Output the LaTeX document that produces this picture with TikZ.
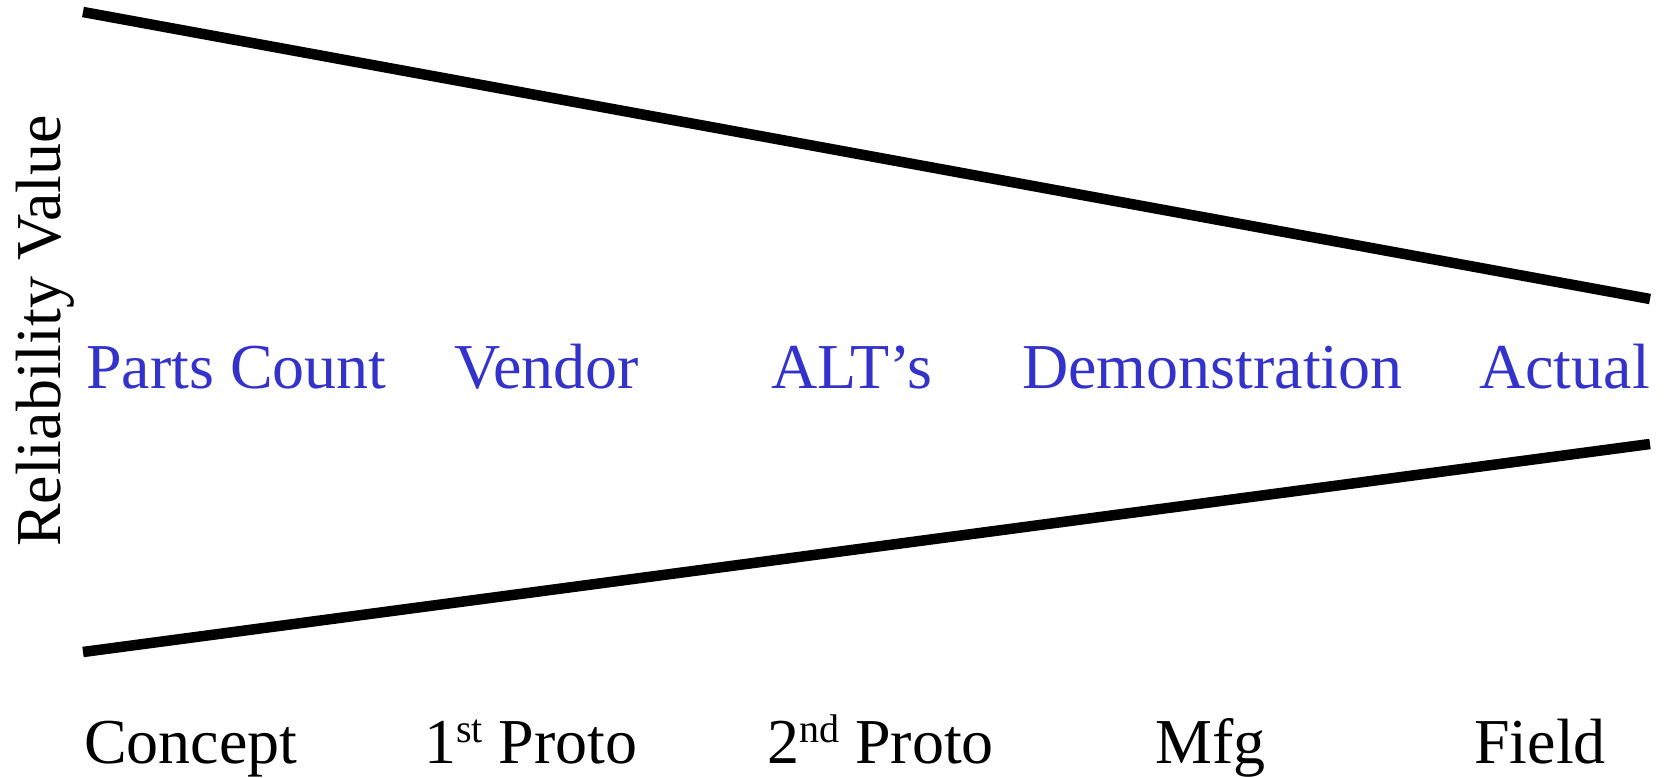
\documentclass[tikz,border=0pt]{standalone}
\usepackage{fontspec}
\setmainfont{Liberation Serif}
\definecolor{lblblue}{RGB}{51,51,204}
\newcommand{\supx}[1]{\raisebox{21pt}{\fontsize{40}{40}\selectfont #1}}
\begin{document}
\begin{tikzpicture}[x=1pt,y=-1pt,
  lbl/.style={inner sep=0pt,anchor=base west,font=\fontsize{64}{64}\selectfont},
  est/.style={lbl,text=lblblue},
  stage/.style={lbl,text=black},
  bound/.style={line width=10.5pt,black}]
\useasboundingbox (0,0) rectangle (1665,778);
\coordinate (tl) at (83,12);
\coordinate (tr) at (1650,299);
\coordinate (bl) at (83,652);
\coordinate (br) at (1650,444);
\draw[bound] (tl) -- (tr);
\draw[bound] (bl) -- (br);
\node[lbl,rotate=90,anchor=base] (ylab) at (60,331) {Reliability Value};
\node[est] (pc) at (86,388) {Parts Count};
\node[est] (ve) at (454,388) {Vendor};
\node[est] (alt) at (771,388) {ALT’s};
\node[est] (dem) at (1022,388) {Demonstration};
\node[est,anchor=base east] (act) at (1650,388) {Actual};
\node[stage] (c) at (84,763) {Concept};
\node[stage] (p1) at (424,763) {1\supx{st} Proto};
\node[stage] (p2) at (767,763) {2\supx{nd} Proto};
\node[stage] (mfg) at (1155,763) {Mfg};
\node[stage] (fld) at (1474,763) {Field};
\end{tikzpicture}
\end{document}
